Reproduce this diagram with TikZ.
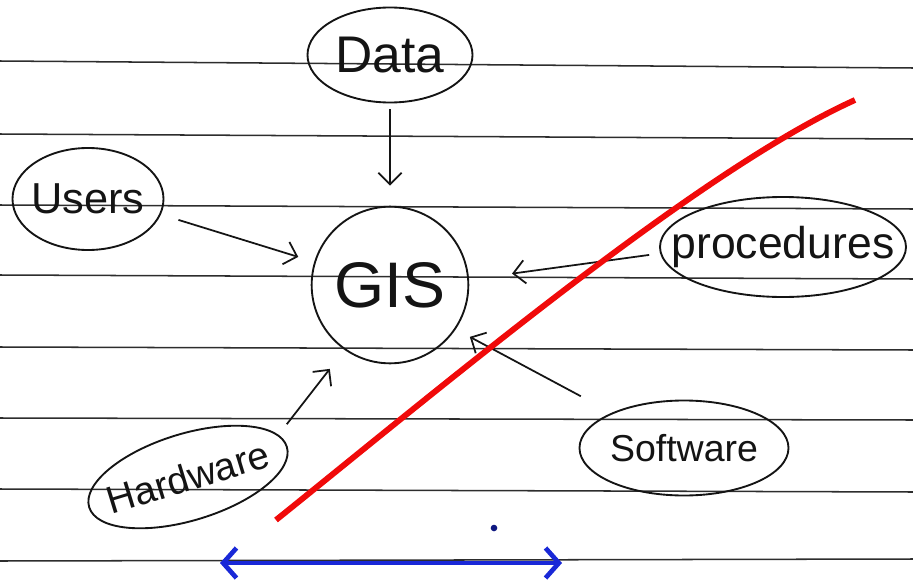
\documentclass[tikz,border=0pt]{standalone}
\usepackage{fontspec}
\setmainfont{Liberation Sans}
\usepackage{tikz}
\usetikzlibrary{shapes.geometric, arrows.meta, positioning, calc}
\definecolor{inkblack}{RGB}{20, 20, 20}
\definecolor{ruleline}{RGB}{45, 45, 45}
\definecolor{markred}{RGB}{240, 10, 10}
\definecolor{penblue}{RGB}{25, 40, 215}

\begin{document}
\begin{tikzpicture}[
    x=0.03cm, y=-0.03cm,
    bubble/.style={ellipse, draw=inkblack, line width=1.6pt, inner sep=-2cm, text=inkblack},
    hub/.style={circle, draw=inkblack, line width=1.6pt, inner sep=0pt, minimum size=4.7cm, text=inkblack},
    rule/.style={draw=ruleline, line width=1.3pt},
    arrow/.style={-{Straight Barb[length=3.5mm, width=7mm]}, line width=1.5pt, draw=inkblack}
]
\useasboundingbox (0,0) rectangle (913,585);

% Ruled paper
\foreach \y/\d in {61/7, 134/5, 205/4, 275/4, 347/3, 418/2, 489/3, 561/-2}
  \draw[rule] (0,\y) -- (913,\y+\d);

% GIS
\node[hub] (gis) at (390,285) {\fontsize{55}{55}\selectfont GIS};

% Components
\node[bubble, minimum width=4.95cm, minimum height=2.85cm] (data) at (390,55) {\fontsize{44}{44}\selectfont Data};
\node[bubble, minimum width=4.53cm, minimum height=3.06cm] (users) at (88,199) {\fontsize{37}{37}\selectfont Users};
\node[bubble, minimum width=7.38cm, minimum height=3.0cm] (proc) at (783,247) {\fontsize{38}{38}\selectfont procedures};
\node[bubble, minimum width=6.27cm, minimum height=2.85cm] (soft) at (684,448) {\fontsize{32}{32}\selectfont Software};
\node[bubble, minimum width=6.2cm, minimum height=2.6cm, rotate=17] (hard) at (188,477) {\fontsize{33}{33}\selectfont Hardware};

% Arrows
\draw[arrow, shorten <=0.18cm, shorten >=0.6cm] (data.south) -- (gis.north);
\draw[arrow, shorten <=0.55cm, shorten >=0.5cm] (users.-12) -- (gis.163);
\draw[arrow, shorten <=0.33cm, shorten >=1.3cm] (proc.183) -- (gis.4);
\draw[arrow, shorten <=1.05cm, shorten >=0.48cm] (soft.154) -- (gis.-34);
\draw[arrow, shorten <=0.4cm, shorten >=0.72cm] (hard.8) -- (gis.235);

% Marks
\coordinate (redlow) at (276,520);
\coordinate (redhigh) at (855,100);
\draw[markred, line width=5pt] (redlow) .. controls (450,380) and (700,170) .. (redhigh);

\coordinate (bleft) at (220,563);
\coordinate (bright) at (562,563);
\draw[penblue, line width=4pt, {Straight Barb[length=4mm, width=9mm]}-{Straight Barb[length=4mm, width=9mm]}] (bleft) -- (bright);
\node[circle, fill=penblue!60!black, inner sep=2pt] (dot) at (494,528) {};

\end{tikzpicture}
\end{document}
